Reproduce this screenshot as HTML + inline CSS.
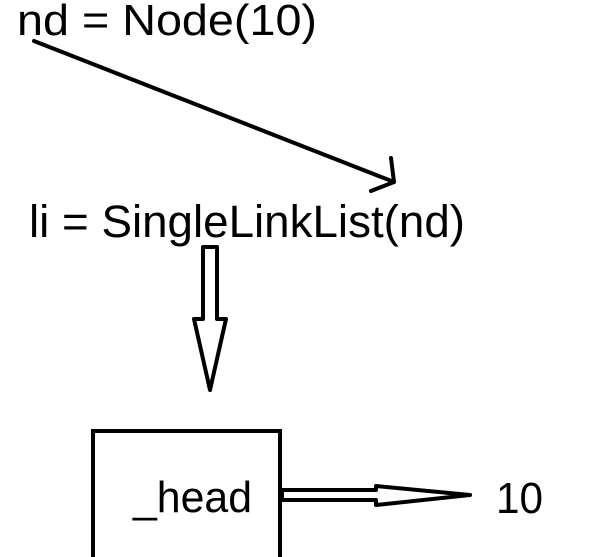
<!DOCTYPE html>
<html><head><style>html,body{margin:0;padding:0;background:#fff;}svg{display:block}</style></head>
<body>
<svg width="615" height="557" xmlns="http://www.w3.org/2000/svg" font-family="'Liberation Sans', 'DejaVu Sans', sans-serif">
<text x="17" y="35" font-size="44" textLength="300" lengthAdjust="spacingAndGlyphs">nd = Node(10)</text>
<line x1="34" y1="41" x2="394" y2="182" stroke="#000" stroke-width="4" stroke-linecap="round"/>
<polyline points="391,158 394,182 371,191" fill="none" stroke="#000" stroke-width="4" stroke-linecap="round" stroke-linejoin="round"/>
<text x="29" y="237" font-size="45" textLength="436" lengthAdjust="spacingAndGlyphs">li = SingleLinkList(nd)</text>
<polygon points="203,247 217,247 217,319 226,319 210,390 194,319 203,319" fill="none" stroke="#000" stroke-width="4" stroke-linejoin="round"/>
<rect x="93" y="431" width="187" height="130" fill="none" stroke="#000" stroke-width="4"/>
<text x="133" y="512" font-size="44" textLength="119" lengthAdjust="spacingAndGlyphs">_head</text>
<polygon points="282,490 376,490 376,486 470,495 376,505 376,500 282,500" fill="none" stroke="#000" stroke-width="4" stroke-linejoin="round"/>
<text x="496" y="513" font-size="44" textLength="47" lengthAdjust="spacingAndGlyphs">10</text>
</svg>
</body></html>
